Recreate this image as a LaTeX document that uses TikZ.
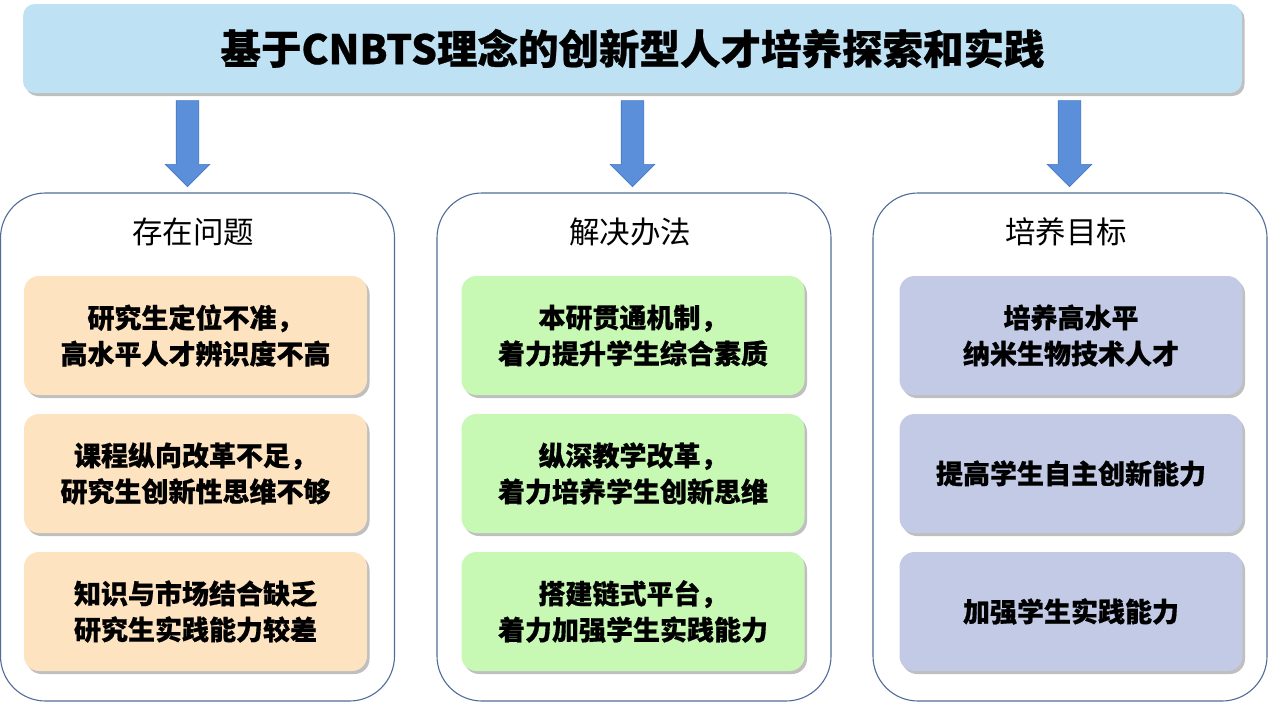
\documentclass[tikz,border=0pt]{standalone}
\usepackage{fontspec}
\newfontfamily\cjk[BoldFeatures={FakeBold=0.6}]{Noto Sans CJK SC}
\usetikzlibrary{shapes.arrows,shadows}
\definecolor{titlefill}{HTML}{BEE2F3}
\definecolor{arrowfill}{HTML}{5B8FDA}
\definecolor{arrowline}{HTML}{4677C2}
\definecolor{panelline}{HTML}{4F6D98}
\definecolor{orangefill}{HTML}{FDE3BF}
\definecolor{greenfill}{HTML}{C7F9B4}
\definecolor{purplefill}{HTML}{C2CAE6}
\tikzset{
  myshadow/.style={drop shadow={shadow xshift=2.5pt,shadow yshift=-3pt,fill=black!55,opacity=0.45}},
  titlebox/.style={fill=titlefill,draw=none,rounded corners=12pt,minimum width=1219pt,minimum height=89pt,myshadow,
    font=\cjk\bfseries\fontsize{40.5}{44}\selectfont,inner sep=0pt},
  blockarrow/.style={single arrow,shape border rotate=270,fill=arrowfill,draw=arrowline,line width=0.6pt,
    minimum width=44pt,single arrow head extend=11pt,minimum height=86pt,inner xsep=11pt,inner ysep=0pt},
  panel/.style={draw=panelline,line width=1.1pt,fill=white,rounded corners=45pt,minimum width=394pt,minimum height=508pt,inner sep=0pt},
  paneltitle/.style={font=\cjk\fontsize{30.5}{33}\selectfont,inner sep=0pt},
  itembox/.style={rounded corners=15pt,minimum width=343pt,minimum height=119pt,myshadow,align=center,
    font=\cjk\bfseries\fontsize{27}{36}\selectfont,inner sep=0pt},
  orangebox/.style={itembox,fill=orangefill},
  greenbox/.style={itembox,fill=greenfill},
  purplebox/.style={itembox,fill=purplefill},
}
\begin{document}
\begin{tikzpicture}[x=1pt,y=-1pt]
\useasboundingbox[fill=white] (0,0) rectangle (1268,704);
\node[titlebox] (title) at (632.5,48.5) {基于CNBTS理念的创新型人才培养探索和实践};

\node[panel] (p1) at (197.5,447) {};
\node[panel] (p2) at (634,447) {};
\node[panel] (p3) at (1070,447) {};

\node[blockarrow] (a1) at (187.5,138) {};
\node[blockarrow] (a2) at (632.5,138) {};
\node[blockarrow] (a3) at (1069.5,138) {};

\node[paneltitle] (t1) at (193,232) {存在问题};
\node[paneltitle] (t2) at (630,232) {解决办法};
\node[paneltitle] (t3) at (1066,232) {培养目标};

\node[orangebox] (o1) at (195.5,335.5) {研究生定位不准，\\高水平人才辨识度不高};
\node[orangebox] (o2) at (195.5,473.5) {课程纵向改革不足，\\研究生创新性思维不够};
\node[orangebox] (o3) at (195.5,611.5) {知识与市场结合缺乏\\研究生实践能力较差};

\node[greenbox] (g1) at (633,335.5) {本研贯通机制，\\着力提升学生综合素质};
\node[greenbox] (g2) at (633,473.5) {纵深教学改革，\\着力培养学生创新思维};
\node[greenbox] (g3) at (633,611.5) {搭建链式平台，\\着力加强学生实践能力};

\node[purplebox] (u1) at (1071,335.5) {培养高水平\\纳米生物技术人才};
\node[purplebox] (u2) at (1071,473.5) {提高学生自主创新能力};
\node[purplebox] (u3) at (1071,611.5) {加强学生实践能力};
\end{tikzpicture}
\end{document}
